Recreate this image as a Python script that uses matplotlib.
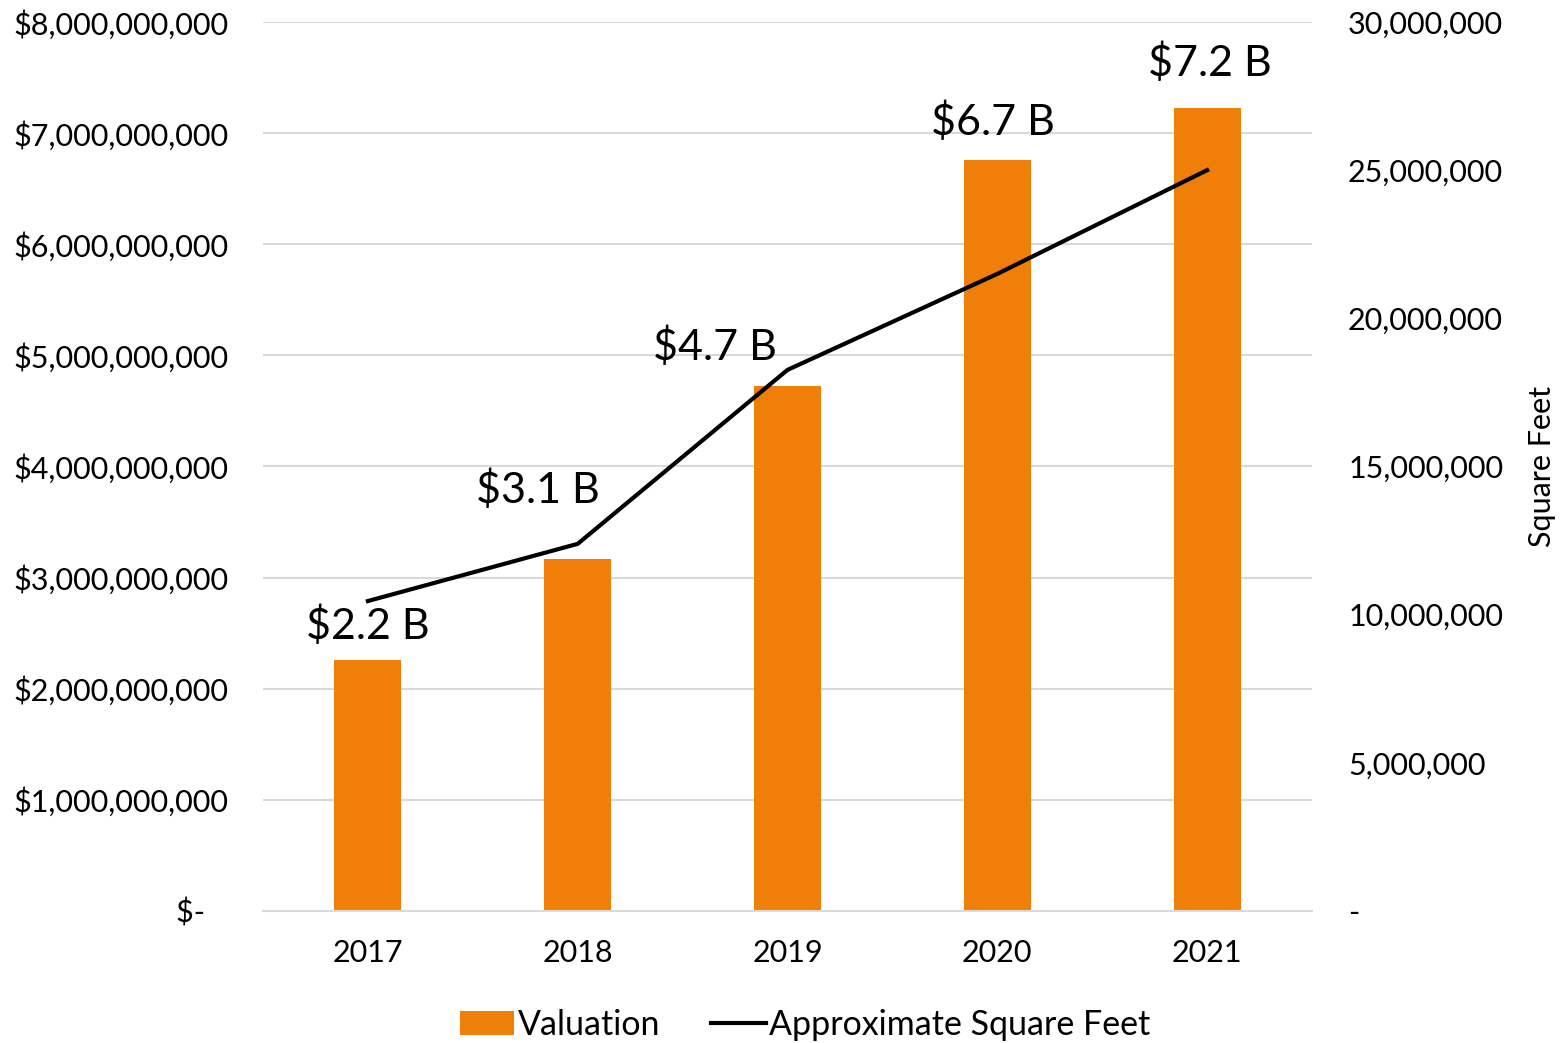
import matplotlib
matplotlib.use("Agg")
import matplotlib.pyplot as plt
from matplotlib.ticker import FuncFormatter, MultipleLocator
from matplotlib.patches import Patch
from matplotlib.lines import Line2D

years = ["2017", "2018", "2019", "2020", "2021"]
valuation = [2.26e9, 3.17e9, 4.72e9, 6.76e9, 7.23e9]
square_feet = [10.46e6, 12.39e6, 18.26e6, 21.5e6, 25.0e6]
value_labels = ["$2.2 B", "$3.1 B", "$4.7 B", "$6.7 B", "$7.2 B"]
label_offsets = [(0, 34), (-40, 69), (-73, 40), (-4, 38), (3, 45)]

FONT = ["Lato", "DejaVu Sans"]
plt.rcParams["font.family"] = FONT
ORANGE = "#F07F09"

fig = plt.figure(figsize=(15.6, 10.43), dpi=100)
ax = fig.add_axes([263/1560, 1-911/1043, (1312-263)/1560, (911-22)/1043])
ax2 = ax.twinx()

x = list(range(len(years)))
ax.bar(x, valuation, width=0.32, color=ORANGE, zorder=2)
ax.set_xlim(-0.5, 4.5)
ax.set_ylim(0, 8e9)
ax.yaxis.set_major_locator(MultipleLocator(1e9))
ax.yaxis.set_major_formatter(FuncFormatter(lambda v, p: "$-   " if v == 0 else f"${v:,.0f}"))
ax.grid(axis="y", color="#D9D9D9", linewidth=1.5, zorder=0)
ax.set_axisbelow(True)
ax.set_xticks(x)
ax.set_xticklabels(years)
ax.tick_params(axis="both", length=0, labelsize=22)
ax.tick_params(axis="y", pad=25)
ax.tick_params(axis="x", pad=20)
for s in ["top", "right", "left"]:
    ax.spines[s].set_visible(False)
ax.spines["bottom"].set_color("#D9D9D9")
ax.spines["bottom"].set_linewidth(1.5)

ax2.plot(x, square_feet, color="black", linewidth=3, zorder=3)
ax2.set_ylim(0, 30e6)
ax2.yaxis.set_major_locator(MultipleLocator(5e6))
ax2.yaxis.set_major_formatter(FuncFormatter(lambda v, p: "-" if v == 0 else f"{v:,.0f}"))
ax2.tick_params(axis="y", length=0, labelsize=22, pad=26)
for s in ["top", "right", "left", "bottom"]:
    ax2.spines[s].set_visible(False)
ax2.set_ylabel("Square Feet", fontsize=22, labelpad=18)

for i, (v, lab, off) in enumerate(zip(valuation, value_labels, label_offsets)):
    ax.annotate(lab, (i, v), xytext=off, textcoords="offset pixels",
                ha="center", va="center", fontsize=31, zorder=5)

handles = [Patch(facecolor=ORANGE, edgecolor="none"),
           Line2D([0], [0], color="black", linewidth=3)]
fig.legend(handles, ["Valuation", "Approximate Square Feet"], loc="center",
           bbox_to_anchor=(0.516, 1-1025/1043), ncol=2, frameon=False,
           fontsize=24.5, handlelength=1.6, handletextpad=0.1, columnspacing=1.5)

fig.savefig("out.png", dpi=100)
